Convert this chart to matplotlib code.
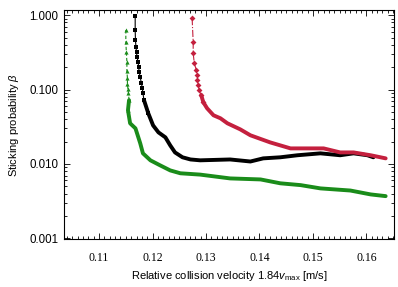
import numpy as np
import matplotlib
matplotlib.use('Agg')
from matplotlib import pyplot as plt
from matplotlib.ticker import MultipleLocator, LogLocator, NullFormatter, FormatStrFormatter

plt.rcParams['font.family'] = 'Liberation Sans'
plt.rcParams['mathtext.fontset'] = 'custom'
plt.rcParams['mathtext.rm'] = 'Liberation Sans'
plt.rcParams['mathtext.it'] = 'Liberation Sans:italic'

# green curve (triangles), first points sparse, rest dense
green_v = [0.1150, 0.1150, 0.1151, 0.1152, 0.1152, 0.1153, 0.1153, 0.1154, 0.1155, 0.1156,
           0.1154, 0.1158, 0.1168, 0.1171, 0.1177, 0.1182, 0.1196, 0.1214, 0.1233, 0.1252,
           0.1289, 0.1345, 0.1402, 0.1439, 0.1477, 0.1514, 0.1570, 0.1608, 0.1636]
green_b = [0.628, 0.433, 0.318, 0.233, 0.176, 0.142, 0.118, 0.101, 0.089, 0.072,
           0.0527, 0.0352, 0.0301, 0.0258, 0.0189, 0.0139, 0.0112, 0.0096, 0.0082, 0.0075,
           0.0072, 0.0064, 0.0062, 0.0055, 0.0052, 0.0047, 0.0044, 0.0039, 0.0037]
green_sparse = 10

# black curve (squares)
black_v = [0.11675, 0.11675, 0.1168, 0.1169, 0.1170, 0.1171, 0.1173, 0.1174, 0.1175, 0.1177,
           0.1179, 0.1181, 0.1182, 0.1184,
           0.1192, 0.1201, 0.1211, 0.1224, 0.1233, 0.1242, 0.1256, 0.1271, 0.1289, 0.1345,
           0.1383, 0.1407, 0.1439, 0.1471, 0.1514, 0.1551, 0.1576, 0.1602, 0.1613]
black_b = [0.969, 0.628, 0.461, 0.371, 0.318, 0.272, 0.233, 0.200, 0.171, 0.147,
           0.122, 0.104, 0.089, 0.072,
           0.048, 0.033, 0.0266, 0.0228, 0.0178, 0.0143, 0.0123, 0.0115, 0.0112, 0.0115,
           0.0108, 0.0119, 0.0123, 0.0131, 0.0139, 0.0131, 0.0139, 0.0131, 0.0123]
black_sparse = 14

# red curve (diamonds)
red_v = [0.1274, 0.1276, 0.1276, 0.1278, 0.1282, 0.1284, 0.1284, 0.1285, 0.1287, 0.1291,
         0.1295, 0.1302, 0.1314, 0.1327, 0.1340, 0.1364, 0.1383, 0.1420, 0.1458, 0.1495,
         0.1520, 0.1551, 0.1576, 0.1608, 0.1636]
red_b = [0.911, 0.433, 0.308, 0.226, 0.182, 0.156, 0.133, 0.114, 0.098, 0.084,
         0.0675, 0.056, 0.0451, 0.0411, 0.0352, 0.0292, 0.0243, 0.0195, 0.0162, 0.0162,
         0.0162, 0.0143, 0.0143, 0.0131, 0.0119]
red_sparse = 10

x_ticks = [0.11, 0.12, 0.13, 0.14, 0.15, 0.16]
x_ticklabels = ['0.11', '0.12', '0.13', '0.14', '0.15', '0.16']

GREEN = '#1a8c1a'
RED = '#c4203e'

fig = plt.figure(figsize=(3.98, 2.87), dpi=100)
ax = fig.add_axes([0.161, 0.167, 0.830, 0.798])

curves = [(green_v, green_b, green_sparse, GREEN, '^', (0, (3, 2))),
          (black_v, black_b, black_sparse, 'black', 's', '-'),
          (red_v, red_b, red_sparse, RED, 'D', '-.')]

for v, b, n, c, m, ls in curves:
    # sparse top part: thin line with markers
    ax.plot(v[:n + 1], b[:n + 1], color=c, lw=0.8, ls=ls, marker=m, ms=3, mew=0)
    # dense part looks like a thick band
    ax.plot(v[n - 1:], b[n - 1:], color=c, lw=2.8, solid_capstyle='round',
            solid_joinstyle='round')

ax.set_yscale('log')
ax.set_xlim(0.10345, 0.16524)
ax.set_ylim(0.00098, 1.17)

ax.set_xticks(x_ticks)
ax.set_xticklabels(x_ticklabels, fontfamily='Liberation Serif', fontsize=8.5)
ax.xaxis.set_minor_locator(MultipleLocator(0.001))
ax.yaxis.set_major_locator(LogLocator(base=10))
ax.yaxis.set_minor_locator(LogLocator(base=10, subs=np.arange(2, 10)))
ax.yaxis.set_major_formatter(FormatStrFormatter('%.3f'))
ax.yaxis.set_minor_formatter(NullFormatter())

ax.tick_params(which='both', direction='in', top=True, right=True, width=0.6)
ax.tick_params(which='major', length=4.5)
ax.tick_params(which='minor', length=2.2)
ax.tick_params(axis='y', labelsize=8.3, pad=4)
ax.tick_params(axis='x', pad=9)
for s in ax.spines.values():
    s.set_linewidth(0.8)

ax.set_ylabel(r'Sticking probability $\it{\beta}$', fontsize=8, labelpad=6)
ax.set_xlabel(r'Relative collision velocity 1.84$\it{v}_{\rm max}$ [m/s]', fontsize=8, labelpad=4)

fig.savefig('out.png', dpi=100)
